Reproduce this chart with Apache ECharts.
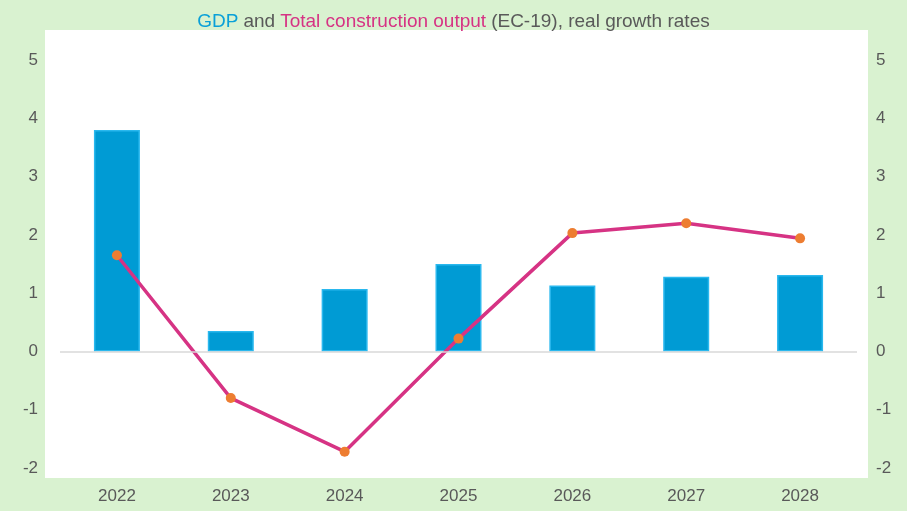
<!DOCTYPE html>
<html lang="en">
<head>
    <meta charset="UTF-8">
    <title>GDP and construction output</title>
    <script src="https://cdn.jsdelivr.net/npm/echarts@6/dist/echarts.min.js"></script>
</head>
<body style="margin:0;background:#d9f2d0">
<div id="main" style="width: 907px; height: 511px"></div>
</body>
<script>
    let years = ['2022','2023','2024','2025','2026','2027','2028'];
    let gdp = [3.8, 0.35, 1.07, 1.5, 1.13, 1.28, 1.31];
    let construction = [1.65, -0.8, -1.72, 0.22, 2.03, 2.2, 1.94];
    let myChart = echarts.init(document.getElementById('main'));
    let label = {color: '#595959', fontSize: 17, fontFamily: 'Liberation Sans'};
    let option = {
        backgroundColor: '#d9f2d0',
        animation: false,
        graphic: [{  // white plot area
            type: 'rect', left: 45, top: 30, z: -10,
            shape: {width: 823, height: 448},
            style: {fill: '#fff'}
        }],
        title: {
            left: 'center', top: 7,
            text: '{b|GDP} {g|and} {p|Total construction output} {g|(EC-19), real growth rates}',
            textStyle: {
                fontWeight: 'normal',
                rich: {
                    b: {color: '#0aa0d8', fontSize: 19, fontFamily: 'Liberation Sans', fontWeight: 'normal'},
                    p: {color: '#d63384', fontSize: 19, fontFamily: 'Liberation Sans', fontWeight: 'normal'},
                    g: {color: '#595959', fontSize: 19, fontFamily: 'Liberation Sans', fontWeight: 'normal'}
                }
            }
        },
        grid: {left: 60, right: 50, top: 60, bottom: 43},
        xAxis: {
            type: 'category', data: years,
            axisLine: {onZero: false, show: false},
            axisTick: {show: false},
            axisLabel: Object.assign({margin: 20}, label)
        },
        yAxis: [
            {type: 'value', min: -2, max: 5, interval: 1, splitLine: {show: false},
             axisLabel: Object.assign({margin: 22}, label)},
            {type: 'value', min: -2, max: 5, interval: 1, splitLine: {show: false},
             axisLabel: Object.assign({margin: 19}, label)}
        ],
        series: [
            {
                type: 'bar', data: gdp, barWidth: 46,
                itemStyle: {color: '#009bd4', borderColor: '#2ab8ee', borderWidth: 1.5},
                markLine: {
                    silent: true, symbol: 'none', label: {show: false},
                    lineStyle: {color: '#d9d9d9', type: 'solid', width: 1.5},
                    data: [{yAxis: 0}]
                }
            },
            {
                type: 'line', data: construction,
                symbol: 'circle', symbolSize: 10,
                lineStyle: {color: '#d63384', width: 3.5},
                itemStyle: {color: '#ed7d31', borderWidth: 0}
            }
        ]
    };
    myChart.setOption(option);
</script>
</html>
